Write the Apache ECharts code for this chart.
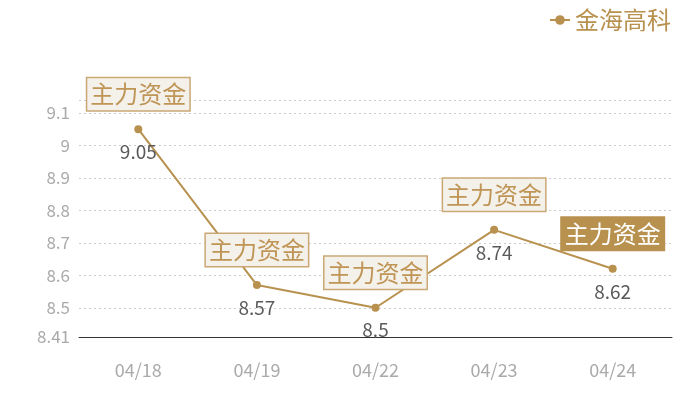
<!DOCTYPE html>
<html>
<head>
<meta charset="utf-8">
<script src="https://cdn.jsdelivr.net/npm/echarts@6/dist/echarts.min.js"></script>
<style>
  html, body { margin: 0; padding: 0; background: #fff; }
  #chart { width: 700px; height: 400px; }
</style>
</head>
<body>
<div id="chart"></div>
<script>
const dates = ["04/18", "04/19", "04/22", "04/23", "04/24"];
const prices = [9.05, 8.57, 8.5, 8.74, 8.62];
const tagText = "主力资金";
const seriesName = "金海高科";

const gold = "#b8914f";
const font = "'Noto Sans CJK SC', 'Noto Sans', sans-serif";

const chart = echarts.init(document.getElementById("chart"));

// 最后一个标签是实心的
const tags = prices.map((v, i) => {
  const last = i === prices.length - 1;
  return {
    coord: [i, v],
    label: {
      backgroundColor: last ? gold : "#f4f0ea",
      borderColor: last ? gold : "#c9a874",
      color: last ? "#fff" : "#bf9556"
    }
  };
});

chart.setOption({
  textStyle: { fontFamily: font },
  legend: {
    right: 24,
    top: 3,
    itemWidth: 20,
    itemHeight: 12,
    itemGap: 4,
    textStyle: { color: gold, fontSize: 24, fontFamily: font },
    data: [seriesName]
  },
  grid: { left: 79, right: 28, top: 100, bottom: 63 },
  xAxis: {
    type: "category",
    data: dates,
    axisLine: { lineStyle: { color: "#333" } },
    axisTick: { show: false },
    axisLabel: { color: "#aaa", fontSize: 18, margin: 24 }
  },
  yAxis: {
    type: "value",
    min: 8.41,
    max: 9.14,
    axisLine: { show: false },
    axisTick: { show: false },
    axisLabel: { color: "#aaa", fontSize: 17, margin: 9, showMaxLabel: false },
    splitLine: { lineStyle: { color: "#ccc", type: [2, 3] } }
  },
  series: [{
    name: seriesName,
    type: "line",
    data: prices,
    symbol: "circle",
    symbolSize: 8,
    itemStyle: { color: gold },
    lineStyle: { color: gold, width: 2 },
    label: {
      show: true,
      position: "bottom",
      distance: 9,
      color: "#5a5a5a",
      fontSize: 19
    },
    markPoint: {
      symbol: "circle",
      symbolSize: 1,
      itemStyle: { color: "rgba(0,0,0,0)" },
      label: {
        show: true,
        formatter: tagText,
        position: "inside",
        offset: [0, -35],
        fontSize: 24,
        borderWidth: 1.5,
        padding: [5, 3, 3, 3]
      },
      data: tags
    }
  }]
});
</script>
</body>
</html>
